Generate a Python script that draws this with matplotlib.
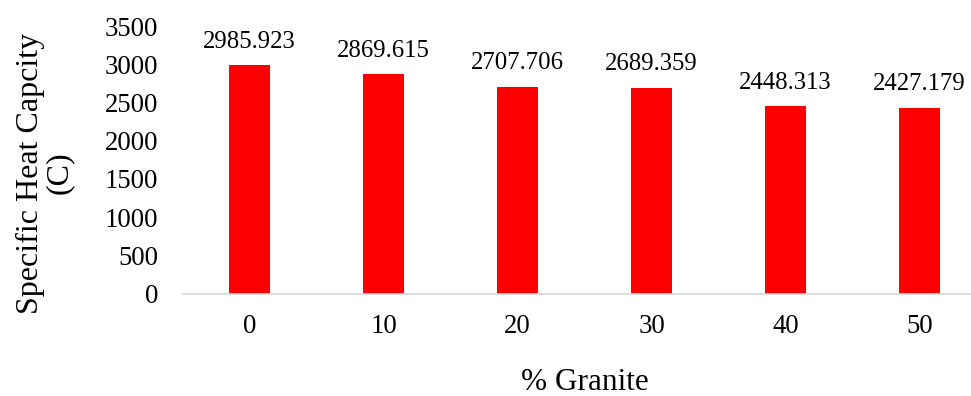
import matplotlib
matplotlib.use("Agg")
import matplotlib.pyplot as plt

granite_pct = ["0", "10", "20", "30", "40", "50"]
heat_capacity = [2985.923, 2869.615, 2707.706, 2689.359, 2448.313, 2427.179]
y_ticks = [0, 500, 1000, 1500, 2000, 2500, 3000, 3500]

plt.rcParams["font.family"] = ["Liberation Serif", "DejaVu Serif"]

W, H = 971, 396
fig = plt.figure(figsize=(W / 100, H / 100), dpi=100)

# plot area: the category band runs slightly past the right edge of the canvas
left_px, right_px, top_px, bottom_px = 182.5, 986.5, 26, 293.5
ax = fig.add_axes([left_px / W, (H - bottom_px) / H,
                   (right_px - left_px) / W, (bottom_px - top_px) / H])

x = range(len(granite_pct))
bars = ax.bar(x, heat_capacity, width=0.31, color="#FF0000", zorder=3)

for xi, v in zip(x, heat_capacity):
    ax.annotate(f"{v:.3f}", (xi, v), xytext=(0, 9), textcoords="offset points",
                ha="center", va="bottom", fontsize=17.8, color="black")

ax.set_xlim(-0.5, len(granite_pct) - 0.5)
ax.set_ylim(0, 3500)
ax.set_yticks(y_ticks)
ax.set_yticklabels([str(t) for t in y_ticks], fontsize=19.3)
ax.set_xticks(list(x))
ax.set_xticklabels(granite_pct, fontsize=19.3)
ax.tick_params(axis="both", length=0, colors="black")
ax.tick_params(axis="y", pad=17.5)
ax.tick_params(axis="x", pad=15)

for side in ("top", "right", "left"):
    ax.spines[side].set_visible(False)
ax.spines["bottom"].set_color("#D9D9D9")
ax.spines["bottom"].set_linewidth(1.3)
ax.spines["bottom"].set_zorder(4)

fig.text(585 / W, 1 - 383 / H, "% Granite", ha="center", va="center", fontsize=22.5)
fig.text(45 / W, 1 - 173 / H, "Specific Heat Capcity\n(C)", ha="center", va="center",
         rotation=90, fontsize=23, linespacing=1.0, multialignment="center")

fig.savefig("out.png", dpi=100)
